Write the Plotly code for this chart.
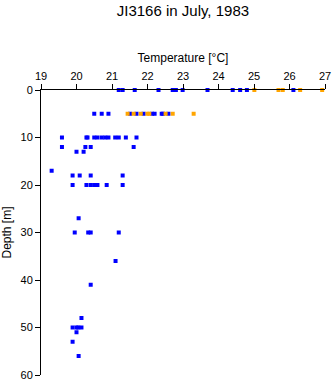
import plotly.graph_objects as go

# Blue series (temperature °C, depth m)
blue_temp = [21.19, 21.30, 21.64, 22.31, 22.71, 22.80, 22.99, 23.69, 24.40, 24.61, 24.80, 26.11,
             20.50, 20.71, 20.90, 21.51, 21.69, 21.89, 22.13, 22.20, 22.40, 22.44, 22.59,
             19.59, 20.28, 20.31, 20.50, 20.59, 20.71, 20.81, 20.90, 21.09, 21.19, 21.39, 21.69,
             19.59, 20.25, 20.40, 21.61,
             20.00, 20.20,
             19.30,
             19.89, 20.09, 20.40, 21.30,
             19.89, 20.28, 20.40, 20.50, 20.59, 20.85, 21.30,
             20.06,
             19.95, 20.33, 20.40, 21.19,
             21.10,
             20.40,
             20.14,
             19.89, 20.00, 20.05, 20.14,
             20.00,
             19.89,
             20.06]
blue_depth = [0] * 12 + \
             [5] * 11 + \
             [10] * 12 + \
             [12] * 4 + \
             [13] * 2 + \
             [17] + \
             [18] * 4 + \
             [20] * 7 + \
             [27] + \
             [30] * 4 + \
             [36] + \
             [41] + \
             [48] + \
             [50] * 4 + \
             [51] + \
             [53] + \
             [56]

# Orange series
orange_temp = [25.01, 25.69, 25.81, 26.30, 26.92, 27.01,
               21.44, 21.61, 21.81, 22.00, 22.05, 22.51, 22.71, 23.30]
orange_depth = [0] * 6 + [5] * 8

x_ticks = [19, 20, 21, 22, 23, 24, 25, 26, 27]
y_ticks = [0, 10, 20, 30, 40, 50, 60]

fig = go.Figure()
fig.add_trace(go.Scatter(x=blue_temp, y=blue_depth, mode="markers",
                         marker=dict(symbol="square", size=4, color="#0000ff", line=dict(width=0)),
                         cliponaxis=False, showlegend=False))
fig.add_trace(go.Scatter(x=orange_temp, y=orange_depth, mode="markers",
                         marker=dict(symbol="square", size=4, color="#ffa500", line=dict(width=0)),
                         cliponaxis=False, showlegend=False))

font = "Liberation Sans, Arial, sans-serif"
fig.update_layout(
    width=335, height=384,
    margin=dict(l=41, r=10, t=90, b=9, autoexpand=False),
    paper_bgcolor="white", plot_bgcolor="white",
    font=dict(family=font, size=11, color="black"),
    title=dict(text="JI3166 in July, 1983", x=0.546, xanchor="center", y=0.985, yanchor="top",
               font=dict(size=15, color="black")),
    xaxis=dict(range=[19, 27], side="top", tickvals=x_ticks, ticks="outside", ticklen=5,
               tickcolor="black", showline=True, linecolor="black", linewidth=1,
               showgrid=False, zeroline=False, automargin=False,
               title=dict(text="Temperature [°C]", standoff=4, font=dict(size=12))),
    yaxis=dict(range=[60, 0], tickvals=y_ticks, ticks="outside", ticklen=5,
               tickcolor="black", showline=True, linecolor="black", linewidth=1,
               showgrid=False, zeroline=False, automargin=False,
               title=dict(text="Depth [m]", standoff=6, font=dict(size=12))),
)

fig.write_html("out.html")
